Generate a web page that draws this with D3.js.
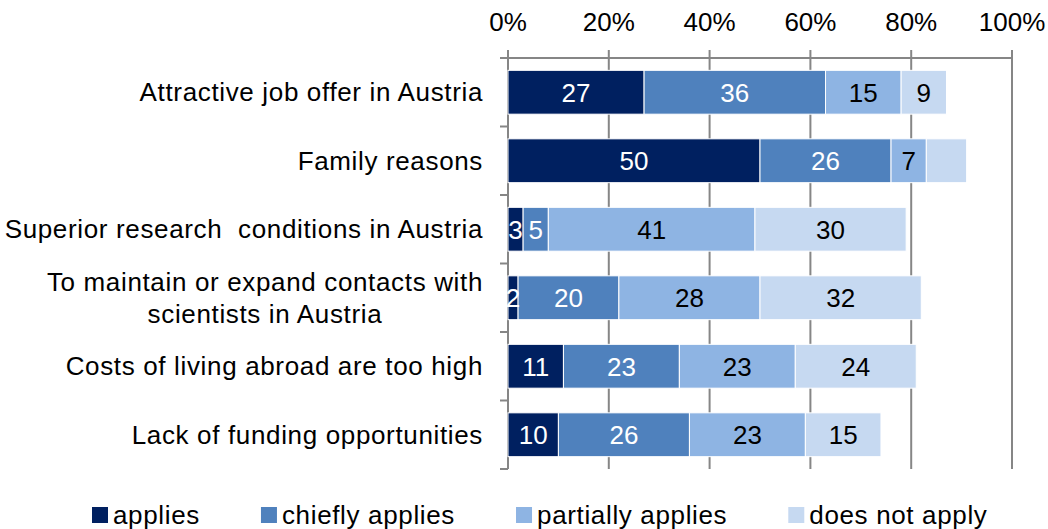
<!DOCTYPE html>
<html>
<head>
<meta charset="utf-8">
<script src="https://cdn.jsdelivr.net/npm/d3@7"></script>
<style>
  html, body { margin: 0; padding: 0; background: #fff; }
  svg { display: block; font-family: "Liberation Sans", Arial, sans-serif; }
  text { white-space: pre; }
</style>
</head>
<body>
<svg id="chart" width="1048" height="529"></svg>
<script>
// ---- data ----
const categories = [
  ["Attractive job offer in Austria"],
  ["Family reasons"],
  ["Superior research  conditions in Austria"],
  ["To maintain or expand contacts with", "scientists in Austria"],
  ["Costs of living abroad are too high"],
  ["Lack of funding opportunities"]
];
const seriesNames = ["applies", "chiefly applies", "partially applies", "does not apply"];
const applies        = [27, 50, 3, 2, 11, 10];
const chieflyApplies = [36, 26, 5, 20, 23, 26];
const partially      = [15, 7, 41, 28, 23, 23];
const doesNotApply   = [9, 8, 30, 32, 24, 15];
const hiddenLabels   = [[1, 3]]; // [category index, series index] whose label is not shown
const xTicks = [0, 20, 40, 60, 80, 100];
const xTickLabels = ["0%", "20%", "40%", "60%", "80%", "100%"];

const colors = ["#002060", "#4F81BD", "#8EB4E3", "#C6D9F1"];
const labelColors = ["#ffffff", "#ffffff", "#000000", "#000000"];

const seriesValues = [applies, chieflyApplies, partially, doesNotApply];
const keys = categories.map(c => c.join(" "));

// ---- scales ----
const svg = d3.select("#chart");
const x = d3.scaleLinear().domain([0, 100]).range([508, 1012]);
const y = d3.scaleBand().domain(keys).range([58, 469]).paddingInner(0.36).paddingOuter(0.18);
const FS = 26;
const LS = 0.65;

// ---- grid & axes ----
const gridColor = "#868686";
svg.append("g").selectAll("line").data(xTicks).join("line")
  .attr("x1", d => x(d)).attr("x2", d => x(d))
  .attr("y1", 50).attr("y2", 469)
  .attr("stroke", gridColor).attr("stroke-width", 2);
svg.append("line").attr("x1", 500).attr("x2", x(100)).attr("y1", 58).attr("y2", 58)
  .attr("stroke", gridColor).attr("stroke-width", 2);
const bounds = keys.map((_, i) => 58 + (i + 1) * y.step());
svg.append("g").selectAll("line").data(bounds).join("line")
  .attr("x1", 500).attr("x2", x(0)).attr("y1", d => d).attr("y2", d => d)
  .attr("stroke", gridColor).attr("stroke-width", 2);

// x tick labels
svg.append("g").selectAll("text").data(xTicks).join("text")
  .attr("x", d => x(d)).attr("y", 22).attr("dy", "0.35em")
  .attr("text-anchor", "middle").attr("font-size", FS).attr("fill", "#000")
  .text((d, i) => xTickLabels[i]);

// ---- bars ----
const stackData = keys.map((k, i) => {
  const o = { key: k, idx: i };
  seriesNames.forEach((s, j) => o[s] = seriesValues[j][i]);
  return o;
});
const stacked = d3.stack().keys(seriesNames)(stackData);

const gBars = svg.append("g");
stacked.forEach((layer, j) => {
  gBars.append("g").selectAll("rect").data(layer).join("rect")
    .attr("x", d => x(d[0]))
    .attr("width", d => x(d[1]) - x(d[0]))
    .attr("y", d => y(d.data.key))
    .attr("height", y.bandwidth())
    .attr("fill", colors[j])
    .attr("stroke", "#ffffff").attr("stroke-width", 1);
});
stacked.forEach((layer, j) => {
  gBars.append("g").selectAll("text")
    .data(layer.filter(d => !hiddenLabels.some(h => h[0] === d.data.idx && h[1] === j)))
    .join("text")
    .attr("x", d => (x(d[0]) + x(d[1])) / 2)
    .attr("y", d => y(d.data.key) + y.bandwidth() / 2)
    .attr("dy", "0.36em")
    .attr("text-anchor", "middle").attr("font-size", FS)
    .attr("fill", labelColors[j])
    .text(d => d[1] - d[0]);
});

// ---- category labels ----
const gCat = svg.append("g");
categories.forEach((lines, i) => {
  const cy = y(keys[i]) + y.bandwidth() / 2;
  const lh = 32;
  if (lines.length === 1) {
    gCat.append("text").attr("x", 483).attr("y", cy).attr("dy", "0.35em")
      .attr("text-anchor", "end").attr("font-size", FS).attr("letter-spacing", LS).text(lines[0]);
  } else {
    const t = gCat.append("text").attr("font-size", FS).attr("letter-spacing", LS).attr("text-anchor", "middle");
    const tmp = gCat.append("text").attr("font-size", FS).attr("letter-spacing", LS);
    let maxW = 0;
    lines.forEach(l => { tmp.text(l); maxW = Math.max(maxW, tmp.node().getComputedTextLength()); });
    tmp.remove();
    const cx = 483 - maxW / 2;
    lines.forEach((l, k) => {
      t.append("tspan").attr("x", cx)
        .attr("y", cy + (k - (lines.length - 1) / 2) * lh)
        .attr("dy", "0.35em").text(l);
    });
  }
});

// ---- legend ----
const gLeg = svg.append("g");
let lx = 92;
seriesNames.forEach((s, j) => {
  gLeg.append("rect").attr("x", lx).attr("y", 507).attr("width", 16).attr("height", 16)
    .attr("fill", colors[j]);
  const t = gLeg.append("text").attr("x", lx + 21).attr("y", 515).attr("dy", "0.35em")
    .attr("font-size", FS).attr("letter-spacing", LS).text(s);
  lx = lx + 21 + t.node().getComputedTextLength() + 61;
});
</script>
</body>
</html>
